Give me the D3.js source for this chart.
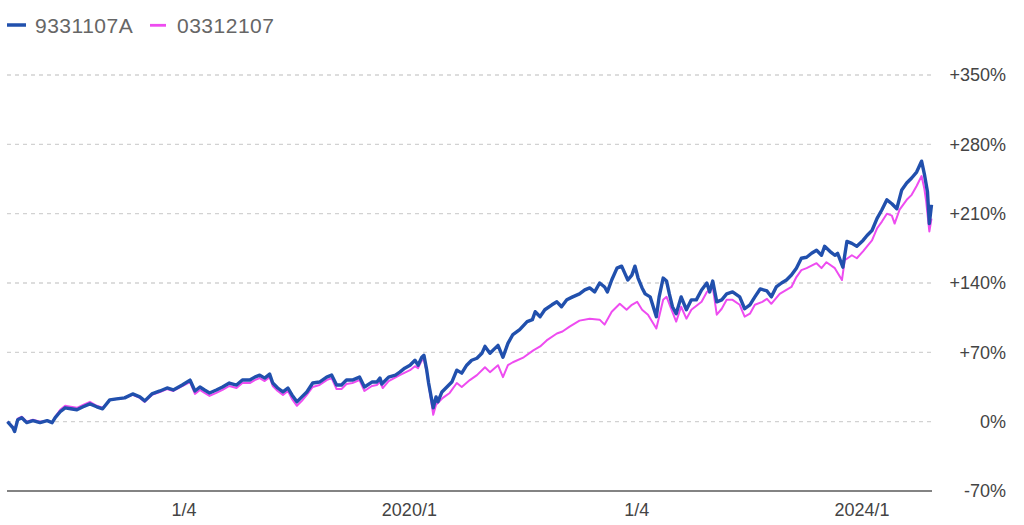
<!DOCTYPE html>
<html>
<head>
<meta charset="utf-8">
<script src="https://cdn.jsdelivr.net/npm/d3@7"></script>
<style>
  html, body { margin: 0; padding: 0; background: #fff; }
  svg { display: block; font-family: "Liberation Sans", Arial, sans-serif; }
</style>
</head>
<body>
<svg id="chart" width="1024" height="525"></svg>
<script>
// ---- data ----
const seriesNames = ["9331107A", "03312107"];

const blueDates = ["2016-06-13","2016-06-30","2016-07-06","2016-07-16","2016-07-29","2016-08-14","2016-09-03","2016-09-26","2016-10-19","2016-11-04","2016-11-14","2016-11-30","2016-12-16","2017-01-03","2017-01-23","2017-02-12","2017-03-06","2017-03-28","2017-04-16","2017-05-09","2017-05-31","2017-06-26","2017-07-22","2017-08-14","2017-08-30","2017-09-22","2017-10-18","2017-11-10","2017-11-30","2017-12-29","2018-01-23","2018-02-08","2018-02-24","2018-03-11","2018-03-27","2018-04-18","2018-05-08","2018-05-30","2018-06-22","2018-07-11","2018-08-04","2018-08-20","2018-09-05","2018-09-21","2018-10-07","2018-10-17","2018-11-02","2018-11-19","2018-12-05","2018-12-18","2019-01-03","2019-01-19","2019-02-04","2019-02-23","2019-03-17","2019-04-09","2019-04-25","2019-05-11","2019-05-27","2019-06-12","2019-07-01","2019-07-24","2019-08-09","2019-09-02","2019-09-18","2019-09-28","2019-10-04","2019-10-26","2019-11-17","2019-12-01","2019-12-17","2020-01-03","2020-01-19","2020-01-29","2020-02-10","2020-02-17","2020-02-26","2020-03-03","2020-03-13","2020-03-18","2020-03-27","2020-04-02","2020-04-15","2020-05-01","2020-05-17","2020-06-02","2020-06-18","2020-07-04","2020-07-20","2020-08-06","2020-08-22","2020-09-01","2020-09-17","2020-10-03","2020-10-13","2020-10-29","2020-11-14","2020-11-30","2020-12-22","2021-01-15","2021-02-01","2021-02-10","2021-02-26","2021-03-13","2021-04-05","2021-04-21","2021-05-06","2021-05-23","2021-06-11","2021-07-03","2021-07-20","2021-08-05","2021-08-21","2021-09-06","2021-09-22","2021-10-01","2021-10-15","2021-11-01","2021-11-16","2021-11-26","2021-12-06","2021-12-19","2021-12-29","2022-01-08","2022-01-21","2022-01-31","2022-02-16","2022-03-08","2022-03-17","2022-03-30","2022-04-10","2022-04-19","2022-04-29","2022-05-11","2022-05-27","2022-06-13","2022-06-29","2022-07-15","2022-08-01","2022-08-18","2022-08-27","2022-09-06","2022-09-19","2022-10-05","2022-10-21","2022-11-09","2022-12-02","2022-12-18","2023-01-04","2023-01-20","2023-02-06","2023-02-28","2023-03-14","2023-03-30","2023-04-16","2023-05-02","2023-05-18","2023-06-03","2023-06-19","2023-07-06","2023-07-22","2023-08-07","2023-08-23","2023-09-02","2023-09-19","2023-10-05","2023-10-14","2023-10-31","2023-11-13","2023-11-29","2023-12-15","2024-01-04","2024-01-17","2024-02-02","2024-02-18","2024-03-05","2024-03-21","2024-04-06","2024-04-22","2024-05-08","2024-05-24","2024-06-09","2024-06-25","2024-07-11","2024-07-20","2024-07-30","2024-08-05","2024-08-12"];
const blueValues = [0,-6,-10,2,4,-1,1,-1,1,-1,4,10,14,13,12,15,18,15,13,22,23,24,28,25,21,28,31,34,32,37,42,31,35,32,29,32,35,39,37,42,42,45,47,44,48,39,34,30,34,27,20,25,30,39,40,45,47,37,37,42,42,45,35,40,40,44,38,45,47,50,54,57,62,57,65,67,52,39,22,14,25,20,30,35,40,52,49,57,62,64,69,76,69,74,77,65,79,88,93,101,103,111,106,113,118,121,116,123,126,129,133,135,131,140,136,131,143,155,157,150,143,148,157,145,135,129,126,106,126,145,142,129,116,109,126,113,123,123,133,140,131,142,121,123,129,131,126,114,118,126,134,132,126,136,140,143,148,155,165,166,170,173,168,177,172,168,170,156,182,180,177,183,188,193,205,214,224,220,215,234,241,246,252,263,250,232,200,219];

const pinkDates = ["2016-06-13","2016-06-30","2016-07-06","2016-07-16","2016-07-29","2016-08-14","2016-09-03","2016-09-26","2016-10-19","2016-11-04","2016-11-14","2016-11-30","2016-12-16","2017-01-03","2017-01-23","2017-02-12","2017-03-06","2017-03-28","2017-04-16","2017-05-09","2017-05-31","2017-06-26","2017-07-22","2017-08-14","2017-08-30","2017-09-22","2017-10-18","2017-11-10","2017-11-30","2017-12-29","2018-01-23","2018-02-08","2018-02-24","2018-03-11","2018-03-27","2018-04-18","2018-05-08","2018-05-30","2018-06-22","2018-07-11","2018-08-04","2018-08-20","2018-09-05","2018-09-21","2018-10-07","2018-10-17","2018-11-02","2018-11-19","2018-12-05","2018-12-18","2019-01-03","2019-01-19","2019-02-04","2019-02-23","2019-03-17","2019-04-09","2019-04-25","2019-05-11","2019-05-27","2019-06-12","2019-07-01","2019-07-24","2019-08-09","2019-09-02","2019-09-18","2019-09-28","2019-10-07","2019-10-26","2019-12-01","2020-01-03","2020-01-19","2020-01-29","2020-02-10","2020-02-17","2020-02-26","2020-03-06","2020-03-18","2020-03-27","2020-04-18","2020-05-10","2020-06-02","2020-06-18","2020-07-14","2020-08-06","2020-09-01","2020-09-17","2020-10-13","2020-10-29","2020-11-14","2020-11-30","2021-01-04","2021-02-04","2021-02-26","2021-03-19","2021-04-21","2021-05-09","2021-06-01","2021-07-03","2021-08-05","2021-09-06","2021-09-22","2021-10-15","2021-11-10","2021-12-02","2021-12-19","2022-01-05","2022-01-21","2022-02-09","2022-03-08","2022-03-17","2022-03-30","2022-04-10","2022-04-26","2022-05-11","2022-05-27","2022-06-13","2022-06-29","2022-08-01","2022-08-18","2022-09-06","2022-09-19","2022-10-05","2022-10-21","2022-11-09","2022-12-02","2022-12-18","2023-01-04","2023-01-20","2023-02-13","2023-02-28","2023-03-14","2023-04-10","2023-05-18","2023-06-03","2023-06-19","2023-07-06","2023-08-07","2023-08-23","2023-09-08","2023-10-05","2023-10-28","2023-11-06","2023-11-29","2023-12-15","2024-01-04","2024-01-17","2024-02-02","2024-02-18","2024-03-05","2024-03-21","2024-04-06","2024-04-15","2024-05-01","2024-05-24","2024-06-09","2024-06-25","2024-07-11","2024-07-20","2024-07-26","2024-08-05","2024-08-12"];
const pinkValues = [0,-5,-9,3,5,0,2,0,1,-1,5,12,16,15,14,17,20,16,14,22,23,24,27,24,20,27,30,33,31,36,40,28,32,29,26,29,32,36,34,39,39,42,44,41,45,36,31,27,31,23,16,21,27,35,37,42,44,33,33,38,39,42,31,36,37,40,34,41,47,52,56,54,62,62,50,32,7,17,24,29,39,35,42,47,55,50,57,45,57,60,65,72,76,82,89,91,96,102,104,103,98,111,119,113,118,121,113,108,94,106,123,126,113,101,116,104,113,121,131,136,108,114,123,123,118,106,109,118,121,124,119,129,136,146,153,155,160,155,161,155,143,163,168,165,172,177,183,195,202,210,208,200,214,224,229,238,248,235,222,192,205];

const yTicks = [-70, 0, 70, 140, 210, 280, 350];
const yTickLabels = ["-70%", "0%", "+70%", "+140%", "+210%", "+280%", "+350%"];
const xTickDates = ["2018-01-04", "2020-01-01", "2022-01-04", "2024-01-01"];
const xTickLabels = ["1/4", "2020/1", "1/4", "2024/1"];

// ---- drawing ----
const parse = d3.timeParse("%Y-%m-%d");
const blue = blueDates.map((d, i) => ({ date: parse(d), value: blueValues[i] }));
const pink = pinkDates.map((d, i) => ({ date: parse(d), value: pinkValues[i] }));

const svg = d3.select("#chart");
const x = d3.scaleTime()
  .domain(d3.extent(blue.concat(pink), d => d.date))
  .range([7.5, 931.5]);
const y = d3.scaleLinear().domain([-70, 350]).range([491, 75]);

const blueColor = "#2150ad";
const pinkColor = "#ee4cf0";

// gridlines (dashed), except the bottom axis line
svg.append("g").selectAll("line")
  .data(yTicks.filter(t => t !== -70))
  .join("line")
  .attr("x1", 7).attr("x2", 932)
  .attr("y1", d => y(d)).attr("y2", d => y(d))
  .attr("stroke", "#d2d2d2")
  .attr("stroke-width", 1.3)
  .attr("stroke-dasharray", "4,4");

// bottom axis line
svg.append("line")
  .attr("x1", 7).attr("x2", 932)
  .attr("y1", y(-70)).attr("y2", y(-70))
  .attr("stroke", "#5a5a5a").attr("stroke-width", 1.5);

// y labels at right
svg.append("g").selectAll("text")
  .data(yTicks)
  .join("text")
  .attr("x", 1006)
  .attr("y", d => y(d))
  .attr("dy", "0.35em")
  .attr("text-anchor", "end")
  .attr("font-size", 18)
  .attr("fill", "#444")
  .text((d, i) => yTickLabels[i]);

// x labels
svg.append("g").selectAll("text")
  .data(xTickDates)
  .join("text")
  .attr("x", d => x(parse(d)))
  .attr("y", 516)
  .attr("text-anchor", "middle")
  .attr("font-size", 18)
  .attr("fill", "#444")
  .text((d, i) => xTickLabels[i]);

const line = d3.line()
  .x(d => x(d.date))
  .y(d => y(d.value))
  .curve(d3.curveLinear);

svg.append("path")
  .datum(pink)
  .attr("d", line)
  .attr("fill", "none")
  .attr("stroke", pinkColor)
  .attr("stroke-width", 2)
  .attr("stroke-linejoin", "round");

svg.append("path")
  .datum(blue)
  .attr("d", line)
  .attr("fill", "none")
  .attr("stroke", blueColor)
  .attr("stroke-width", 3.4)
  .attr("stroke-linejoin", "round");

// legend
const legend = svg.append("g");
legend.append("line")
  .attr("x1", 7).attr("x2", 26).attr("y1", 25).attr("y2", 25)
  .attr("stroke", blueColor).attr("stroke-width", 3.5);
legend.append("text")
  .attr("x", 35).attr("y", 33)
  .attr("font-size", 21).attr("letter-spacing", 0.5)
  .attr("fill", "#666")
  .text(seriesNames[0]);
legend.append("line")
  .attr("x1", 150).attr("x2", 166).attr("y1", 25.3).attr("y2", 25.3)
  .attr("stroke", pinkColor).attr("stroke-width", 2.8);
legend.append("text")
  .attr("x", 177).attr("y", 33)
  .attr("font-size", 21).attr("letter-spacing", 0.5)
  .attr("fill", "#666")
  .text(seriesNames[1]);
</script>
</body>
</html>
